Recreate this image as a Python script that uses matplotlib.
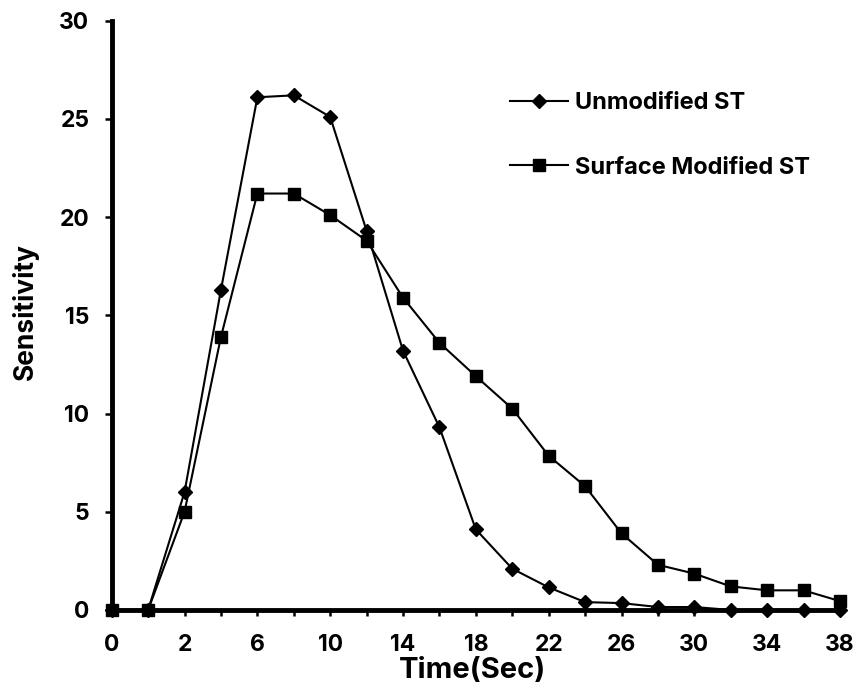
import matplotlib
matplotlib.use("Agg")
import matplotlib.pyplot as plt

# time categories (Excel-style category axis, every other one labelled)
time_cats = ["0", "1", "2", "4", "6", "8", "10", "12", "14", "16", "18",
             "20", "22", "24", "26", "28", "30", "32", "34", "36", "38"]

unmodified = [0, 0, 6.0, 16.3, 26.1, 26.2, 25.1, 19.3, 13.2, 9.3, 4.1,
              2.1, 1.15, 0.4, 0.35, 0.15, 0.15, 0, 0, 0, 0]
surface_mod = [0, 0, 5.0, 13.9, 21.2, 21.2, 20.1, 18.8, 15.9, 13.6, 11.9,
               10.25, 7.85, 6.3, 3.9, 2.3, 1.85, 1.2, 1.0, 1.0, 0.45]

plt.rcParams['font.family'] = ['Inter', 'Liberation Sans', 'DejaVu Sans']
plt.rcParams['font.weight'] = 'bold'

fig = plt.figure(figsize=(8.56, 6.96), dpi=100)
ax = fig.add_axes([0.1305, 0.1236, 0.8508, 0.8467])

x = list(range(len(time_cats)))
ax.plot(x, unmodified, color='black', lw=1.5, marker='D', markersize=7,
        label='Unmodified ST', clip_on=False, zorder=4)
ax.plot(x, surface_mod, color='black', lw=1.5, marker='s', markersize=8.5,
        label='Surface Modified ST', clip_on=False, zorder=3)

ax.set_xlim(0, len(time_cats) - 1)
ax.set_ylim(0, 30)
ax.set_yticks([0, 5, 10, 15, 20, 25, 30])
ax.set_xticks(x)
ax.set_xticklabels([t if i % 2 == 0 else "" for i, t in enumerate(time_cats)])

for side in ['top', 'right']:
    ax.spines[side].set_visible(False)
for side in ['left', 'bottom']:
    ax.spines[side].set_linewidth(3.5)

ax.tick_params(axis='x', direction='out', length=4.5, width=1.8,
               labelsize=16.5, pad=13)
ax.tick_params(axis='y', direction='out', length=5, width=1.8,
               labelsize=16.5, pad=11)
for lab in ax.get_xticklabels() + ax.get_yticklabels():
    lab.set_fontweight('bold')

ax.set_xlabel('Time(Sec)', fontsize=21, fontweight='bold')
ax.set_ylabel('Sensitivity', fontsize=19, fontweight='bold')
ax.xaxis.label.set_va('center')
ax.yaxis.label.set_va('center')
ax.xaxis.set_label_coords(0.495, -0.102)
ax.yaxis.set_label_coords(-0.118, 0.507)

leg = ax.legend(loc='upper left', bbox_to_anchor=(510 / 856, 1 - 92 / 696),
                bbox_transform=fig.transFigure, frameon=False,
                prop={'size': 17, 'weight': 'bold'}, borderpad=0,
                borderaxespad=0, handlelength=2.45, handletextpad=0.3,
                labelspacing=1.8)

fig.savefig("out.png", dpi=100)
